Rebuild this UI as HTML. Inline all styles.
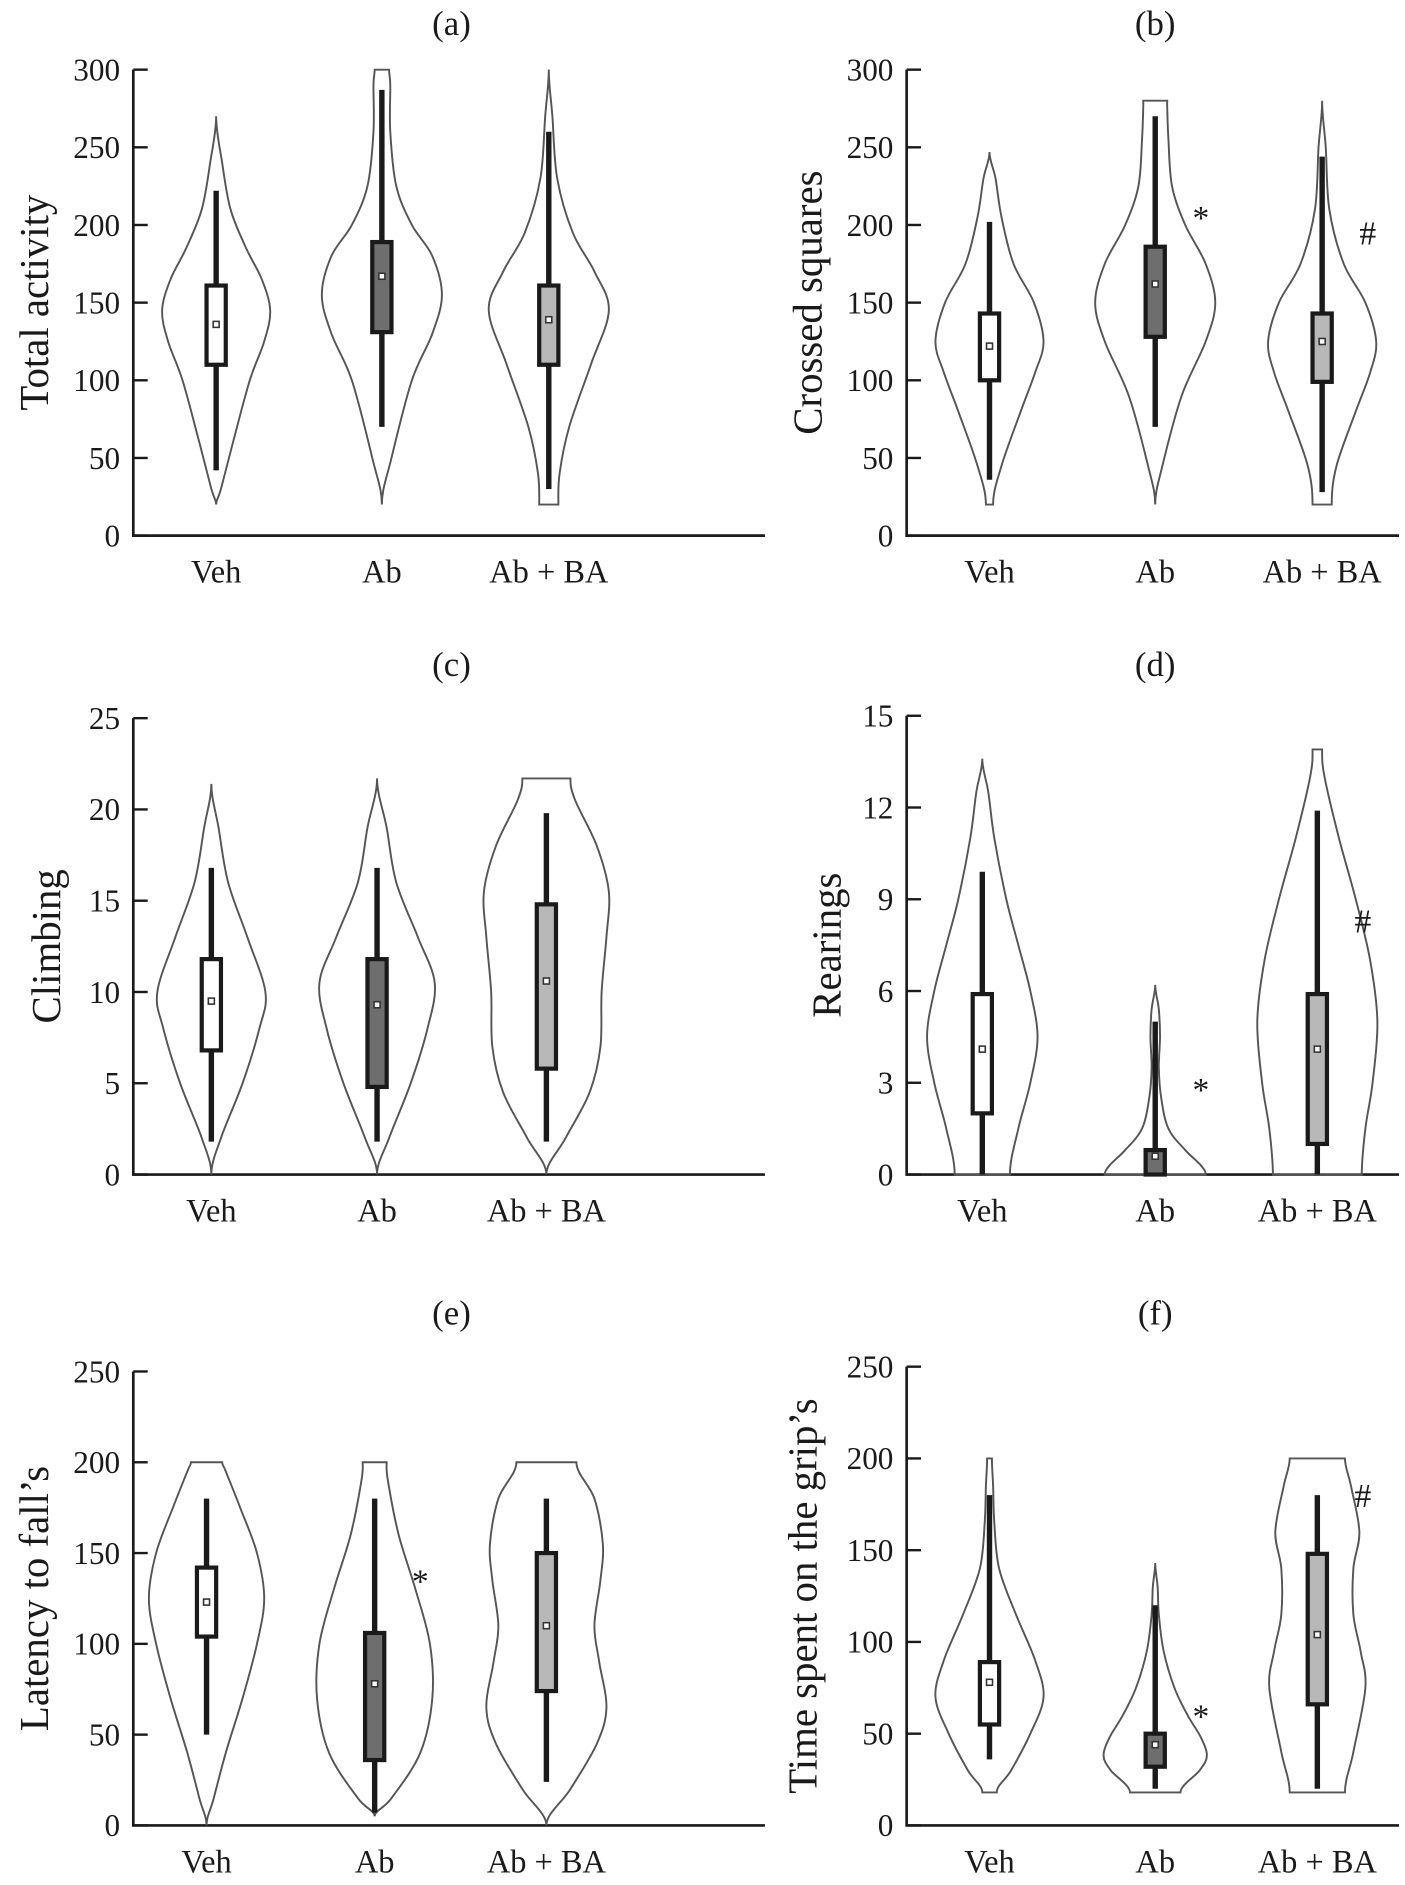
<!DOCTYPE html>
<html><head><meta charset="utf-8"><style>
html,body{margin:0;padding:0;background:#fff}
svg{display:block}
text{font-family:"Liberation Serif",serif;fill:#1a1a1a}
</style></head><body>
<svg id="fig" width="1405" height="1885" viewBox="0 0 1170 1569.6" preserveAspectRatio="none" xmlns="http://www.w3.org/2000/svg"></svg>
<script>
// ---- data ----
const categories = ["Veh", "Ab", "Ab + BA"];
const panelLetters = ["(a)", "(b)", "(c)", "(d)", "(e)", "(f)"];
const yTitles = ["Total activity", "Crossed squares", "Climbing", "Rearings", "Latency to fall’s", "Time spent on the grip’s"];
const yTicksA = [0, 50, 100, 150, 200, 250, 300];
const yTicksC = [0, 5, 10, 15, 20, 25];
const yTicksD = [0, 3, 6, 9, 12, 15];
const yTicksE = [0, 50, 100, 150, 200, 250];
// box stats: [whiskerLow, q1, mean, q3, whiskerHigh]
const boxA = [[42,110,136,161,222],[70,131,167,189,287],[30,110,139,161,260]];
const boxB = [[36,100,122,143,202],[70,128,162,186,270],[28,99,125,143,244]];
const boxC = [[1.8,6.8,9.5,11.8,16.8],[1.8,4.8,9.3,11.8,16.8],[1.8,5.8,10.6,14.8,19.8]];
const boxD = [[0,2,4.1,5.9,9.9],[0,0,0.6,0.8,5],[0,1,4.1,5.9,11.9]];
const boxE = [[50,104,123,142,180],[7,36,78,106,180],[24,74,110,150,180]];
const boxF = [[36,55,78,89,180],[20,32,44,50,120],[20,66,104,148,180]];
// violin density profiles: [value, relative density]
const vioA = [
 [[20,0],[30,4],[60,14],[100,28],[125,40],[145,45],[165,38],[185,25],[210,12],[240,5],[270,0]],
 [[20,0],[50,8],[100,25],[130,42],[155,50],[180,42],[200,25],[225,12],[260,7],[290,7],[300,6],[300,0]],
 [[20,0],[20,8],[40,9],[70,17],[110,35],[145,50],[170,38],[195,20],[230,7],[270,3],[300,0]]];
const vioB = [
 [[20,0],[20,3],[45,10],[80,26],[105,38],[125,45],[150,37],[175,20],[205,10],[230,5],[247,0]],
 [[20,0],[45,6],[90,22],[125,42],[150,50],[175,42],[200,25],[225,14],[255,11],[275,10],[280,10],[280,0]],
 [[20,0],[20,8],[45,12],[80,28],[105,40],[125,45],[150,36],[175,18],[210,6],[250,3],[280,0]]];
const vioC = [
 [[0,0],[2,8],[5,26],[8,40],[10,45],[13,30],[16,14],[19,6],[21.4,0]],
 [[0,0],[2,10],[5,28],[8,42],[10.5,48],[13,34],[16,16],[19,8],[21.7,0]],
 [[0,0],[2,16],[4.5,36],[7,45],[10,46],[13,50],[15.5,52],[18,42],[20.5,24],[21.7,20],[21.7,0]]];
const vioD = [
 [[0,0],[0,23],[1.5,30],[3,40],[4.5,46],[6,40],[7.5,30],[9,20],[11,10],[12.5,5],[13.6,0]],
 [[0,0],[0,42],[0.3,38],[0.8,25],[1.5,11],[2.5,5],[3.5,3],[4.5,4],[5.4,3],[6.2,0]],
 [[0,0],[0,37],[1.5,40],[3,46],[5,50],[7,44],[9,32],[11,18],[13,6],[13.9,4],[13.9,0]]];
const vioE = [
 [[0,0],[15,6],[40,16],[70,30],[100,42],[125,48],[150,42],[175,28],[195,16],[200,13],[200,0]],
 [[5,0],[15,14],[40,38],[70,48],[100,46],[130,34],[160,20],[190,11],[200,10],[200,0]],
 [[0,0],[20,20],[45,42],[65,50],[90,44],[110,40],[135,45],[155,47],[180,40],[200,25],[200,0]]];
const vioF = [
 [[18,0],[18,6],[30,18],[50,34],[70,45],[90,38],[115,22],[140,8],[165,4],[185,3],[200,2],[200,0]],
 [[18,0],[18,21],[30,37],[38,43],[48,38],[60,27],[75,16],[95,7],[115,3],[130,2],[143,0]],
 [[18,0],[18,23],[40,30],[75,40],[95,36],[115,30],[140,30],[160,35],[185,28],[200,23],[200,0]]];
const marks = [[],[[1,"*",205],[2,"#",195]],[],[[1,"*",2.8],[2,"#",8.3]],[[1,"*",135]],[[1,"*",60],[2,"#",180]]];

// ---- layout ----
const panels = [
 {x0:111,xr:637,top:58,bot:446,max:300,ticks:yTicksA,box:boxA,vio:vioA,cx:[180,318,457],ty:18,lx:28},
 {x0:755,xr:1165,top:58,bot:446,max:300,ticks:yTicksA,box:boxB,vio:vioB,cx:[824,962,1101],ty:18,lx:672},
 {x0:111,xr:637,top:598,bot:978,max:25,ticks:yTicksC,box:boxC,vio:vioC,cx:[176,314,455],ty:552,lx:38},
 {x0:755,xr:1165,top:596,bot:978,max:15,ticks:yTicksD,box:boxD,vio:vioD,cx:[818,962,1097],ty:552,lx:688},
 {x0:111,xr:637,top:1142,bot:1520,max:250,ticks:yTicksE,box:boxE,vio:vioE,cx:[172,312,455],ty:1092,lx:28},
 {x0:755,xr:1165,top:1138,bot:1520,max:250,ticks:yTicksE,box:boxF,vio:vioF,cx:[824,962,1097],ty:1092,lx:668}];
const fills = ["#ffffff","#6e6e6e","#b8b8b8"];
const svg = document.getElementById('fig');
const NS = "http://www.w3.org/2000/svg";
function mk(tag, attrs, parent){const e=document.createElementNS(NS,tag);for(const k in attrs)e.setAttribute(k,attrs[k]);(parent||svg).appendChild(e);return e;}

// monotone-ish curve (vertical parameter), no overshoot at flat ends
function curve(pts){
  let d = "";
  for(let i=1;i<pts.length;i++){
    const p1=pts[i-1], p2=pts[i];
    const p0=pts[i-2], p3=pts[i+1];
    const t1 = p0 ? [(p2[0]-p0[0])/6,(p2[1]-p0[1])/6] : [0,(p2[1]-p1[1])/3];
    const t2 = p3 ? [(p3[0]-p1[0])/6,(p3[1]-p1[1])/6] : [0,(p2[1]-p1[1])/3];
    d+=" C"+(p1[0]+t1[0])+","+(p1[1]+t1[1])+" "+(p2[0]-t2[0])+","+(p2[1]-t2[1])+" "+p2[0]+","+p2[1];
  }
  return d;
}
function violinPath(prof, cx, y){
  let s=0,e=prof.length;
  if(prof.length>1 && prof[0][1]===0 && prof[1][0]===prof[0][0]) s=1;
  if(prof.length>1 && prof[e-1][1]===0 && prof[e-2][0]===prof[e-1][0]) e=e-1;
  const core = prof.slice(s,e);
  const R = core.map(q=>[cx+q[1], y(q[0])]);
  const L = core.slice().reverse().map(q=>[cx-q[1], y(q[0])]);
  return "M"+R[0][0]+","+R[0][1]+curve(R)+" L"+L[0][0]+","+L[0][1]+curve(L)+" Z";
}

panels.forEach((p, pi) => {
  const g = mk('g', {});
  
  
  const y = v => p.bot - (v / p.max) * (p.bot - p.top);
  const t = mk('text', {x:(p.x0+p.xr)/2+2, y:p.ty+11, 'font-size':29, 'text-anchor':'middle'}, g);
  t.textContent = panelLetters[pi];
  
  
  const ax = mk('path', {d:`M${p.x0},${p.top} V${p.bot} H${p.xr}`, stroke:'#1a1a1a','stroke-width':2.2, fill:'none'}, g);
  
  
  p.ticks.forEach(v => {
    mk('line', {x1:p.x0, x2:p.x0+12, y1:y(v), y2:y(v), stroke:'#1a1a1a','stroke-width':2}, g);
    const tl = mk('text', {x:p.x0-11, y:y(v)+9, 'font-size':26, 'text-anchor':'end'}, g);
    tl.textContent = v;
    
    
  });
  const yl = mk('text', {x:0, y:0, 'font-size':34, 'text-anchor':'middle', transform:`translate(${p.lx+12},${(p.top+p.bot)/2}) rotate(-90)`}, g);
  yl.textContent = yTitles[pi];
  
  
  categories.forEach((c, ci) => {
    const cx = p.cx[ci];
    const xl = mk('text', {x:cx, y:p.bot+39, 'font-size':27, 'text-anchor':'middle'}, g);
    xl.textContent = c;
    
    
    const vp = mk('path', {d:violinPath(p.vio[ci], cx, y), fill:'none', stroke:'#555', 'stroke-width':1.6}, g);
    
    
    const b = p.box[ci];
    const wl = mk('line', {x1:cx, x2:cx, y1:y(b[0]), y2:y(b[4]), stroke:'#1a1a1a','stroke-width':4.5}, g);
    
    
    const r = mk('rect', {x:cx-8, y:y(b[3]), width:16, height:Math.max(y(b[1])-y(b[3]),1), fill:fills[ci], stroke:'#1a1a1a','stroke-width':3.5}, g);
    
    
    const m = mk('rect', {x:cx-2.5, y:y(b[2])-2.5, width:5, height:5, fill:'#fff', stroke:'#333','stroke-width':1.3}, g);
    
    
  });
  marks[pi].forEach(mm => {
    const s = mk('text', {x:p.cx[mm[0]]+38, y:y(mm[2])+10, 'font-size':28, 'text-anchor':'middle'}, g);
    s.textContent = mm[1];
    
    
  });
});
</script>
</body></html>
